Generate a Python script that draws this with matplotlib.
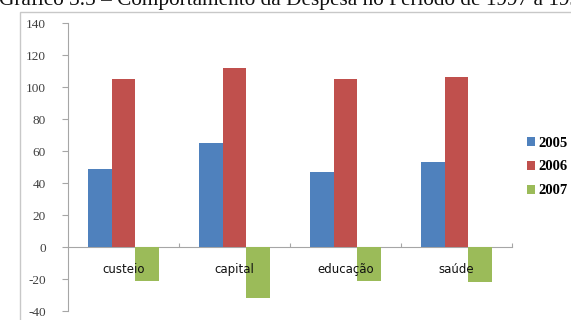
import matplotlib.pyplot as plt
import matplotlib.patches as mpatches
import numpy as np

plt.rcParams['axes.unicode_minus'] = False

categorias = ['custeio', 'capital', 'educação', 'saúde']
anos = ['2005', '2006', '2007']
valores_2005 = [49, 65, 47, 53]
valores_2006 = [105, 112, 105, 106]
valores_2007 = [-21, -32, -21, -22]
cores = ['#4F81BD', '#C0504D', '#9BBB59']

W, H = 571, 320
fig = plt.figure(figsize=(W / 100, H / 100), dpi=100)

# chart frame (runs past right and bottom edge)
frame = mpatches.Rectangle((20 / W, -0.1), 1.2, 1.1 - 12 / H, transform=fig.transFigure,
                           fill=False, edgecolor='#c8c8c8', linewidth=1.0)
fig.patches.append(frame)

# title, partly cut off at the top
fig.text(-0.002, 1 - 5.5 / H,
         'Gráfico 3.5 – Comportamento da Despesa no Período de 1997 a 1999',
         family='Liberation Serif', fontsize=15.3, va='baseline', ha='left',
         color='#111111')

ax = fig.add_axes([68 / W, 9 / H, 444 / W, 288 / H])

x = np.arange(len(categorias))
largura = 0.216
series = [valores_2005, valores_2006, valores_2007]
for i, (ano, vals) in enumerate(zip(anos, series)):
    ax.bar(x + (i - 1) * largura, vals, largura, color=cores[i], label=ano, zorder=2)

ax.set_xlim(-0.5, len(categorias) - 0.5)
ax.set_ylim(-40, 140)
ax.set_yticks(np.arange(-40, 141, 20))

for s in ['top', 'right']:
    ax.spines[s].set_visible(False)
ax.spines['left'].set_color('#a6a6a6')
ax.spines['bottom'].set_color('#a6a6a6')
ax.spines['bottom'].set_position(('data', 0))
ax.spines['bottom'].set_zorder(1)

ax.set_xticks(np.arange(0.5, len(categorias), 1.0))
ax.set_xticklabels([])
ax.tick_params(axis='x', direction='in', length=3, color='#a6a6a6')
ax.tick_params(axis='y', direction='out', length=4, color='#a6a6a6',
               labelsize=9.5, labelcolor='#404040', pad=12)
for lbl in ax.get_yticklabels():
    lbl.set_family('Liberation Serif')

for xi, nome in zip(x, categorias):
    ax.text(xi, -14, nome, ha='center', va='center', fontsize=8.5,
            color='#111111', zorder=5)

fig.legend(loc='center left', bbox_to_anchor=(527 / W, 1 - 167 / H),
           frameon=False, handlelength=0.55, handleheight=0.55,
           handletextpad=0.2, labelspacing=0.75, borderpad=0, borderaxespad=0,
           prop={'family': 'Liberation Serif', 'size': 10.5, 'weight': 'bold'})

fig.savefig('out.png', dpi=100)
